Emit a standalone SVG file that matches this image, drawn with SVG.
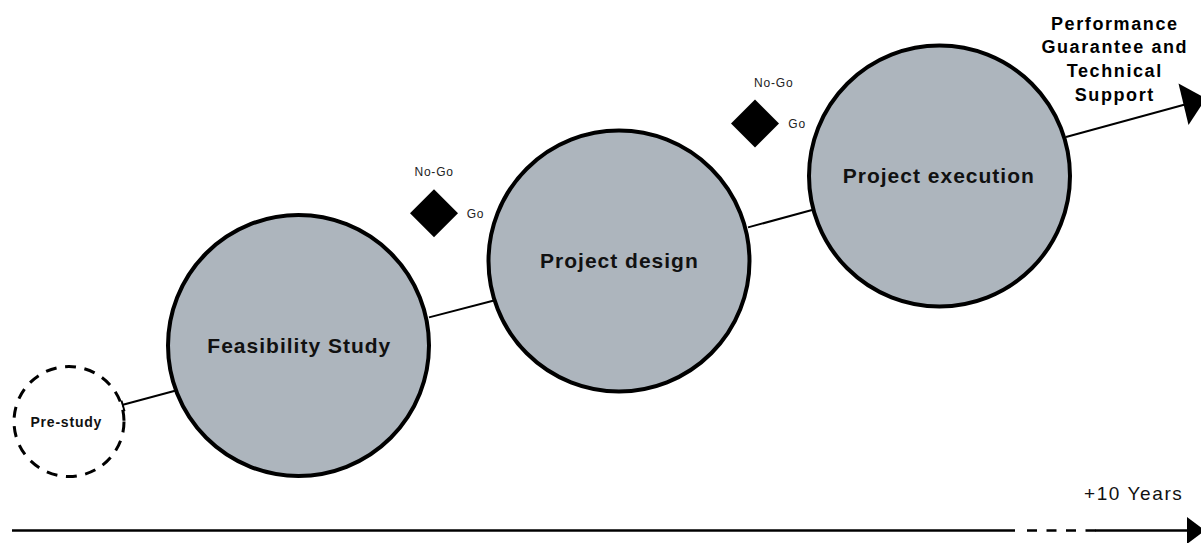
<svg xmlns="http://www.w3.org/2000/svg" width="1201" height="543" viewBox="0 0 1201 543">
  <style>
    .stage { fill: #adb5bd; stroke: #000; stroke-width: 4; }
    .pre { fill: #fff; stroke: #000; stroke-width: 3; stroke-dasharray: 11 8.6; }
    .conn { stroke: #000; stroke-width: 2; fill: none; }
    .axis { stroke: #000; stroke-width: 2.5; fill: none; }
    .head { fill: #000; stroke: none; }
    .gate { fill: #000; }
    .lbl { font-family: "Liberation Sans", Arial, Helvetica, sans-serif; font-weight: bold; font-size: 21px; letter-spacing: 1px; fill: #111; text-anchor: middle; }
    .small { font-family: "Liberation Sans", Arial, Helvetica, sans-serif; font-size: 12px; letter-spacing: 0.8px; fill: #222; }
    .perf { font-family: "Liberation Sans", Arial, Helvetica, sans-serif; font-weight: bold; font-size: 18px; letter-spacing: 1.6px; fill: #000; text-anchor: middle; }
    .years { font-family: "Liberation Sans", Arial, Helvetica, sans-serif; font-size: 19px; letter-spacing: 1.6px; fill: #111; }
  </style>
  <rect width="1201" height="543" fill="#fff"/>

  <g id="connectors">
    <line class="conn" x1="122" y1="405" x2="176" y2="390.5"/>
    <line class="conn" x1="121.5" y1="400.7" x2="124.5" y2="411.3"/>
    <line class="conn" x1="429" y1="317.4" x2="494" y2="300.5"/>
    <line class="conn" x1="748" y1="227.4" x2="812" y2="210"/>
    <line class="conn" x1="1066" y1="137" x2="1185" y2="104.5"/>
    <polygon class="head" points="1178.5,83.5 1206,98.5 1188.5,125"/>
  </g>

  <g id="timeline">
    <line class="axis" x1="12" y1="530.5" x2="1015" y2="530.5"/>
    <line class="axis" x1="1027" y1="530.5" x2="1096" y2="530.5" stroke-dasharray="10 9.5"/>
    <line class="axis" x1="1095" y1="530.5" x2="1190" y2="530.5"/>
    <polygon class="head" points="1187,517 1205,530.5 1187,544"/>
    <text class="years" x="1084" y="500">+10 Years</text>
  </g>

  <g id="pre-study">
    <circle class="pre" cx="69" cy="421.5" r="55"/>
    <text class="lbl" x="66.3" y="426.7" style="font-size:14px;letter-spacing:0.8px">Pre-study</text>
  </g>

  <g id="feasibility-study">
    <circle class="stage" cx="298.5" cy="345.5" r="130.5"/>
    <text class="lbl" x="299.3" y="352.7">Feasibility Study</text>
  </g>

  <g id="gate-1">
    <polygon class="gate" points="434,189.3 458,213.3 434,237.3 410,213.3"/>
    <text class="small" x="434.1" y="175.5" text-anchor="middle">No-Go</text>
    <text class="small" x="466.7" y="217.5">Go</text>
  </g>

  <g id="project-design">
    <circle class="stage" cx="619" cy="261" r="130.5"/>
    <text class="lbl" x="619.4" y="268.3">Project design</text>
  </g>

  <g id="gate-2">
    <polygon class="gate" points="755,99.5 779,123.5 755,147.5 731,123.5"/>
    <text class="small" x="754.1" y="87.3">No-Go</text>
    <text class="small" x="788.3" y="128.3">Go</text>
  </g>

  <g id="project-execution">
    <circle class="stage" cx="939.5" cy="176" r="130.5"/>
    <text class="lbl" x="938.8" y="183.3">Project execution</text>
  </g>

  <g id="performance-guarantee">
    <text class="perf" x="1114.8" y="29.5">Performance</text>
    <text class="perf" x="1114.8" y="53.3">Guarantee and</text>
    <text class="perf" x="1114.8" y="77">Technical</text>
    <text class="perf" x="1114.8" y="100.7">Support</text>
  </g>
</svg>
